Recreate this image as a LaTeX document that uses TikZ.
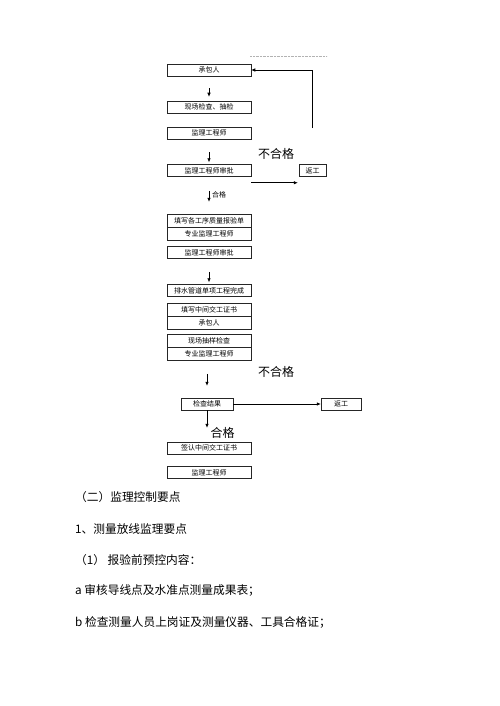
\documentclass[tikz,border=0pt]{standalone}
\usepackage{fontspec}
\setmainfont{Noto Sans CJK SC}
\usepackage{tikz}
\usetikzlibrary{positioning}
\usetikzlibrary{arrows.meta}
\tikzset{
  flow chart/.style={
    flow box/.style={draw=black!85, line width=0.5pt, minimum width=84pt, minimum height=12pt, inner sep=0pt, font={\fontsize{7}{8}\selectfont}},
    pair box/.style={flow box, minimum height=13pt},
    flow arrow/.style={black, line width=0.6pt, -{Latex[length=4pt,width=3.5pt]}},
    flow label/.style={inner sep=0pt, font={\fontsize{12}{14}\selectfont}},
    small label/.style={inner sep=0pt, anchor=west, font={\fontsize{7}{8}\selectfont}},
    body text/.style={inner sep=0pt, anchor=west, font={\fontsize{11.7}{14}\selectfont}},
  }
}
\newcommand{\pairbox}[4]{
    \node[pair box] (#1a) at (209,#2) {#3};
    \node[pair box, below=0pt of #1a] (#1b) {#4};
}

\begin{document}
\begin{tikzpicture}
[
    flow chart,
    x=1pt, y=-1pt
]
    \useasboundingbox (0,0) rectangle (500,706);
    \draw[black!30, densely dotted, line width=0.4pt] (250,56) -- (327,56);

    \foreach \name/\y/\txt in {cbr/70/承包人, xc/107/现场检查、抽检, jl/133/监理工程师,
        sp/170.5/监理工程师审批, sp2/252.5/监理工程师审批, wc/290.5/排水管道单项工程完成,
        qr/448/签认中间交工证书, jl2/472.5/监理工程师}
        \node[flow box] (\name) at (209,\y) {\txt};

    \pairbox{bg}{220.5}{填写各工序质量报验单}{专业监理工程师}
    \pairbox{zs}{309.5}{填写中间交工证书}{承包人}
    \pairbox{cy}{340.5}{现场抽样检查}{专业监理工程师}

    \node[flow box, minimum width=27pt] (fg1) at (312.5,170.5) {返工};
    \node[flow box, minimum width=52pt] (jg) at (207,404) {检查结果};
    \node[flow box, minimum width=40pt] (fg2) at (341,404) {返工};

    \node[flow label] (bhg1) at (276,154) {不合格};
    \node[flow label] (bhg2) at (276,372) {不合格};
    \node[flow label] (hg2) at (222.5,433) {合格};
    \node[small label] (hg1) at (212,195) {合格};

    % vertical arrows
    \draw[flow arrow, shorten <=12pt, shorten >=4pt] (cbr.south) -- (xc.north);
    \draw[flow arrow, shorten <=13pt, shorten >=2pt] (jl.south) -- (sp.north);
    \draw[flow arrow, shorten <=14pt, shorten >=12pt] (sp.south) -- (bga.north);
    \draw[flow arrow, shorten <=13pt, shorten >=2pt] (sp2.south) -- (wc.north);
    \draw[flow arrow, shorten <=13pt, shorten >=12pt] (jg.north |- cyb.south) -- (jg.north);
    \draw[flow arrow, shorten >=14pt] (jg.south) -- (jg.south |- qr.north);

    % rework
    \draw[flow arrow, shorten >=1pt] ([yshift=-6pt]sp.south east) -- ([yshift=-6pt]fg1.south west);
    \draw[flow arrow] (jg.east) -- (fg2.west);
    \coordinate (ret) at (312,128);
    \draw[flow arrow] (ret) |- (cbr.east);

    \foreach \y/\txt in {497/（二）监理控制要点, 529/1、测量放线监理要点, 560/（1） 报验前预控内容：,
        590/a 审核导线点及水准点测量成果表；, 622/b 检查测量人员上岗证及测量仪器、工具合格证；}
        \node[body text] (line\y) at (75,\y) {\txt};
\end{tikzpicture}
\end{document}
